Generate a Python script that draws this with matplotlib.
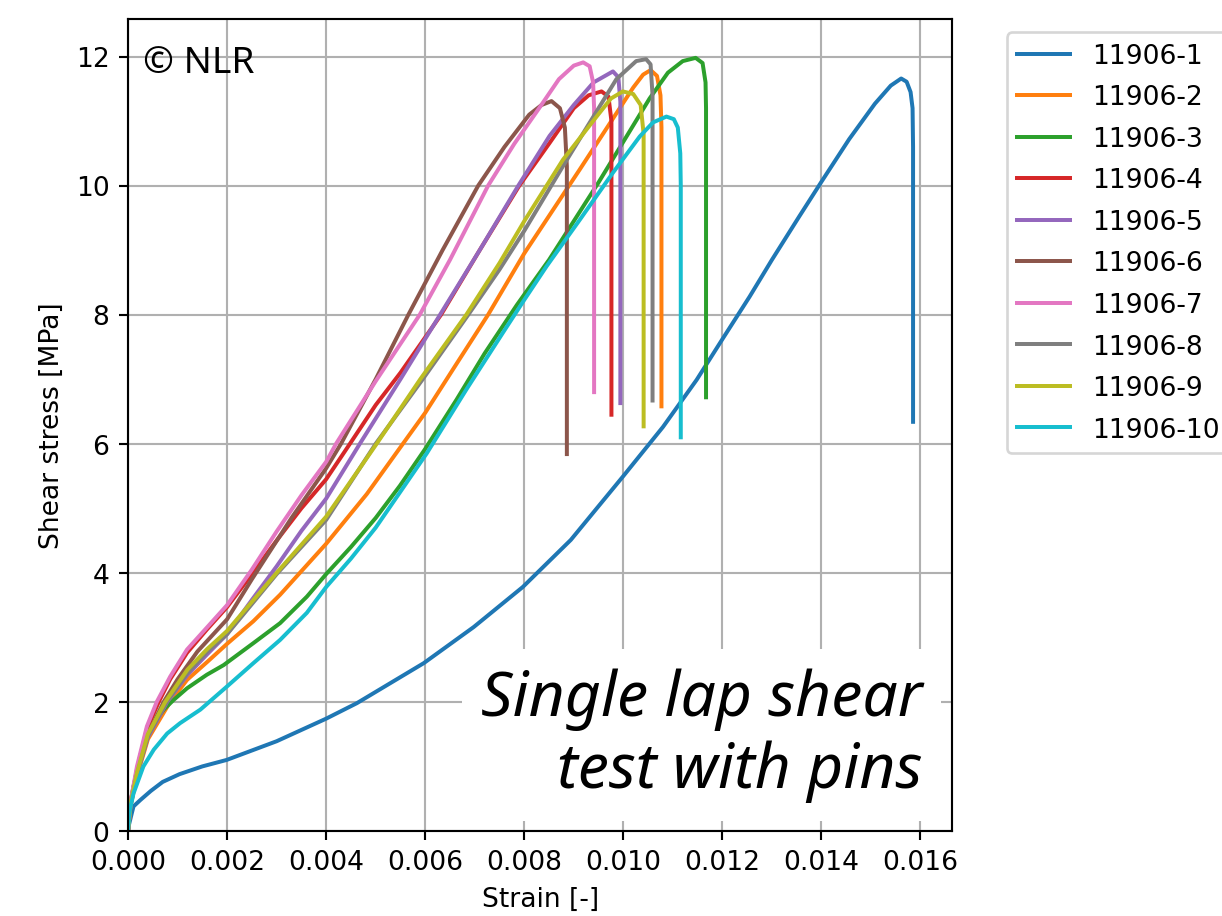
import numpy as np
import matplotlib
matplotlib.use("Agg")
import matplotlib.pyplot as plt

labels = ["11906-1", "11906-2", "11906-3", "11906-4", "11906-5",
          "11906-6", "11906-7", "11906-8", "11906-9", "11906-10"]

# strain [-] / shear stress [MPa]
x1 = [0, 0.00002, 0.00011, 0.00025, 0.00046, 0.00070, 0.00104, 0.00150, 0.00199, 0.00300,
      0.00400, 0.00462, 0.00597, 0.00698, 0.00797, 0.00894, 0.00999, 0.01080, 0.01148,
      0.01200, 0.01255, 0.01300, 0.01355, 0.01400, 0.01456, 0.01508, 0.01540, 0.01561,
      0.01572, 0.01580, 0.01584, 0.01585, 0.01585]
y1 = [0, 0.10, 0.38, 0.48, 0.62, 0.76, 0.88, 1.00, 1.10, 1.39,
      1.74, 1.98, 2.60, 3.16, 3.78, 4.51, 5.49, 6.26, 6.99,
      7.62, 8.28, 8.85, 9.52, 10.06, 10.72, 11.27, 11.55, 11.66,
      11.61, 11.45, 11.20, 10.60, 6.34]

x2 = [0, 0.00005, 0.00018, 0.00040, 0.00085, 0.00119, 0.00160, 0.00200, 0.00253, 0.00307,
      0.00347, 0.00400, 0.00482, 0.00555, 0.00600, 0.00660, 0.00727, 0.00800, 0.00912,
      0.00980, 0.01020, 0.01040, 0.01055, 0.01068, 0.01075, 0.01077, 0.01077]
y2 = [0, 0.38, 0.85, 1.42, 2.00, 2.34, 2.62, 2.90, 3.25, 3.66,
      4.00, 4.45, 5.22, 6.00, 6.48, 7.20, 8.00, 8.95, 10.25,
      11.05, 11.52, 11.72, 11.79, 11.70, 11.40, 10.90, 6.58]

x3 = [0, 0.00003, 0.00011, 0.00031, 0.00052, 0.00072, 0.00092, 0.00119, 0.00159, 0.00193,
      0.00253, 0.00307, 0.00361, 0.00400, 0.00450, 0.00500, 0.00549, 0.00600, 0.00663,
      0.00720, 0.00785, 0.00850, 0.00900, 0.00950, 0.01000, 0.01053, 0.01090, 0.01120,
      0.01146, 0.01160, 0.01166, 0.01167, 0.01167]
y3 = [0, 0.35, 0.69, 1.31, 1.67, 1.88, 2.03, 2.21, 2.42, 2.57,
      2.91, 3.22, 3.63, 3.98, 4.40, 4.85, 5.35, 5.92, 6.68,
      7.40, 8.15, 8.85, 9.45, 10.05, 10.68, 11.35, 11.75, 11.93,
      11.98, 11.90, 11.60, 11.20, 6.72]

x4 = [0, 0.00005, 0.00018, 0.00038, 0.00062, 0.00085, 0.00119, 0.00159, 0.00200, 0.00250,
      0.00300, 0.00350, 0.00400, 0.00448, 0.00500, 0.00550, 0.00632, 0.00710, 0.00790,
      0.00851, 0.00900, 0.00930, 0.00956, 0.00970, 0.00976, 0.00976, 0.00976]
y4 = [0, 0.44, 0.95, 1.58, 2.00, 2.35, 2.76, 3.12, 3.47, 3.98,
      4.50, 5.00, 5.45, 6.00, 6.60, 7.10, 8.00, 9.00, 10.00,
      10.66, 11.20, 11.40, 11.46, 11.38, 11.00, 10.50, 6.45]

x5 = [0, 0.00005, 0.00018, 0.00040, 0.00079, 0.00120, 0.00160, 0.00200, 0.00250, 0.00300,
      0.00350, 0.00400, 0.00468, 0.00550, 0.00630, 0.00710, 0.00788, 0.00851, 0.00900,
      0.00940, 0.00979, 0.00990, 0.00994, 0.00994]
y5 = [0, 0.40, 0.88, 1.45, 2.00, 2.42, 2.74, 3.05, 3.58, 4.10,
      4.65, 5.15, 6.00, 7.00, 8.00, 9.00, 10.00, 10.77, 11.25,
      11.60, 11.77, 11.68, 11.30, 6.63]

x6 = [0, 0.00005, 0.00018, 0.00040, 0.00072, 0.00100, 0.00140, 0.00200, 0.00250, 0.00330,
      0.00400, 0.00430, 0.00500, 0.00566, 0.00635, 0.00707, 0.00760, 0.00810, 0.00835,
      0.00855, 0.00872, 0.00882, 0.00886, 0.00886]
y6 = [0, 0.42, 0.90, 1.50, 2.00, 2.35, 2.78, 3.28, 3.90, 4.85,
      5.62, 6.00, 7.00, 8.00, 9.00, 10.00, 10.60, 11.10, 11.25,
      11.31, 11.20, 10.90, 10.30, 5.84]

x7 = [0, 0.00005, 0.00018, 0.00038, 0.00058, 0.00085, 0.00119, 0.00159, 0.00200, 0.00250,
      0.00300, 0.00350, 0.00400, 0.00420, 0.00500, 0.00589, 0.00650, 0.00727, 0.00780,
      0.00830, 0.00870, 0.00900, 0.00919, 0.00932, 0.00939, 0.00941, 0.00941]
y7 = [0, 0.45, 1.00, 1.62, 2.00, 2.39, 2.81, 3.15, 3.50, 4.05,
      4.64, 5.20, 5.72, 6.00, 6.97, 8.00, 8.85, 10.00, 10.65,
      11.20, 11.65, 11.86, 11.91, 11.85, 11.60, 11.20, 6.80]

x8 = [0, 0.00005, 0.00018, 0.00040, 0.00078, 0.00120, 0.00160, 0.00200, 0.00300, 0.00400,
      0.00500, 0.00595, 0.00687, 0.00750, 0.00800, 0.00878, 0.00930, 0.00986, 0.01026,
      0.01046, 0.01055, 0.01059, 0.01059]
y8 = [0, 0.40, 0.88, 1.47, 2.00, 2.45, 2.78, 3.05, 3.98, 4.82,
      6.00, 7.00, 8.00, 8.70, 9.30, 10.30, 10.95, 11.65, 11.93,
      11.96, 11.88, 11.40, 6.67]

x9 = [0, 0.00005, 0.00018, 0.00040, 0.00075, 0.00120, 0.00160, 0.00200, 0.00300, 0.00400,
      0.00502, 0.00590, 0.00683, 0.00750, 0.00800, 0.00878, 0.00946, 0.00975, 0.00999,
      0.01020, 0.01035, 0.01041, 0.01041]
y9 = [0, 0.42, 0.90, 1.50, 2.00, 2.50, 2.82, 3.10, 4.00, 4.87,
      6.00, 7.00, 8.00, 8.80, 9.45, 10.40, 11.07, 11.35, 11.46,
      11.42, 11.25, 10.80, 6.27]

x10 = [0, 0.00003, 0.00011, 0.00031, 0.00052, 0.00079, 0.00105, 0.00146, 0.00200, 0.00253,
       0.00307, 0.00361, 0.00400, 0.00450, 0.00500, 0.00603, 0.00683, 0.00761, 0.00800,
       0.00845, 0.00912, 0.00979, 0.01033, 0.01060, 0.01087, 0.01102, 0.01110, 0.01115,
       0.01116, 0.01116]
y10 = [0, 0.30, 0.58, 1.00, 1.26, 1.51, 1.67, 1.88, 2.24, 2.60,
       2.96, 3.38, 3.78, 4.22, 4.70, 5.85, 6.84, 7.77, 8.23,
       8.75, 9.47, 10.20, 10.76, 10.98, 11.07, 11.03, 10.90, 10.50,
       10.00, 6.10]

xs = [x1, x2, x3, x4, x5, x6, x7, x8, x9, x10]
ys = [y1, y2, y3, y4, y5, y6, y7, y8, y9, y10]

fig = plt.figure(figsize=(6.4, 4.8), dpi=191)
ax = fig.add_axes([0.10475, 0.09279, 0.67430, 0.88538])

for xv, yv, lab in zip(xs, ys, labels):
    ax.plot(xv, yv, label=lab)

ax.set_xlim(left=0)
ax.set_ylim(bottom=0)
ax.grid(True)
ax.set_xlabel("Strain [-]")
ax.set_ylabel("Shear stress [MPa]")
ax.legend(loc="upper left", bbox_to_anchor=(1.05, 1), labelspacing=0.585)

ax.text(0.018, 0.935, "\u00a9 NLR", transform=ax.transAxes, fontsize=14,
        family=["Noto Sans", "DejaVu Sans"], ha="left", va="baseline")
ax.text(0.9636, 0.035, "Single lap shear\ntest with pins", transform=ax.transAxes,
        fontsize=23.5, style="italic", family=["Noto Sans", "DejaVu Sans"],
        ha="right", va="bottom", linespacing=1.2, zorder=5,
        bbox=dict(boxstyle="square,pad=0.3", facecolor="white", edgecolor="none"))

fig.savefig("out.png", dpi=191)
